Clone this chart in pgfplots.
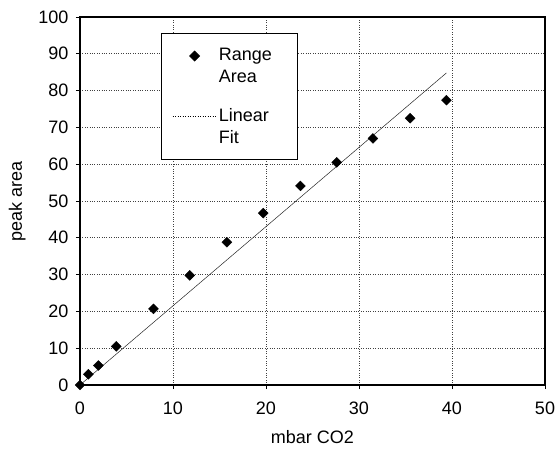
\documentclass[border=0pt]{standalone}
\usepackage{fontspec}
\setmainfont{Liberation Sans}
\usepackage{pgfplots}
\pgfplotsset{compat=1.18}
\begin{document}
\begin{tikzpicture}[x=1pt,y=1pt]
\useasboundingbox (-80,-70) rectangle (479,385);
\begin{axis}[
  scale only axis,
  width=465pt, height=368pt,
  xmin=0, xmax=50, ymin=0, ymax=100,
  xtick={0,10,20,30,40,50},
  ytick={0,10,...,100},
  tick pos=left,
  tick align=outside,
  major tick length=4pt,
  axis line style={line width=1.2pt},
  every tick/.style={black, line width=0.8pt},
  grid=major,
  major grid style={dotted, black!75, line width=0.6pt},
  /pgf/number format/assume math mode=true,
  tick label style={font=\fontsize{18}{21}\selectfont},
  xticklabel style={yshift=-9pt},
  yticklabel style={xshift=-4pt},
  label style={font=\fontsize{18}{21}\selectfont},
  xlabel={mbar CO2},
  ylabel={peak area},
  xlabel style={at={(axis description cs:0.5,-0.142)}, anchor=center},
  ylabel style={at={(axis description cs:-0.135,0.5)}, anchor=center},
  legend style={at={(axis cs:8.7,95.6)}, anchor=north west, draw=black, line width=0.8pt,
    fill=white, font=\fontsize{18}{22}\selectfont, inner xsep=11pt, inner ysep=11.5pt,
    row sep=18pt, column sep=0pt,
    nodes={inner sep=3pt},
    cells={align=left}, legend cell align=left},
]
\addplot[only marks, mark=square*, mark size=3.5pt, mark options={rotate=45}, black,
  legend image code/.code={\draw[draw=none] (0pt,0pt) -- (43pt,0pt);
    \draw[only marks, mark=square*, mark size=3.5pt, mark options={rotate=45}, black] plot coordinates {(22pt,10pt)};}] coordinates {
  (0,0) (0.9,2.9) (1.97,5.3) (3.9,10.5) (7.9,20.7) (11.8,29.8) (15.8,38.8) (19.7,46.7)
  (23.7,54.1) (27.6,60.5) (31.5,67.0) (35.5,72.5) (39.4,77.4)
};
\addlegendentry{\makebox[65pt][l]{Range}\\Area}
\addplot[black!85, line width=0.5pt,
  legend image code/.code={\draw[black, dotted, line width=0.5pt] (0pt,10pt) -- (43pt,10pt);}] coordinates {
  (0,0) (39.4,84.8)
};
\addlegendentry{Linear\\Fit}
\end{axis}
\end{tikzpicture}
\end{document}
